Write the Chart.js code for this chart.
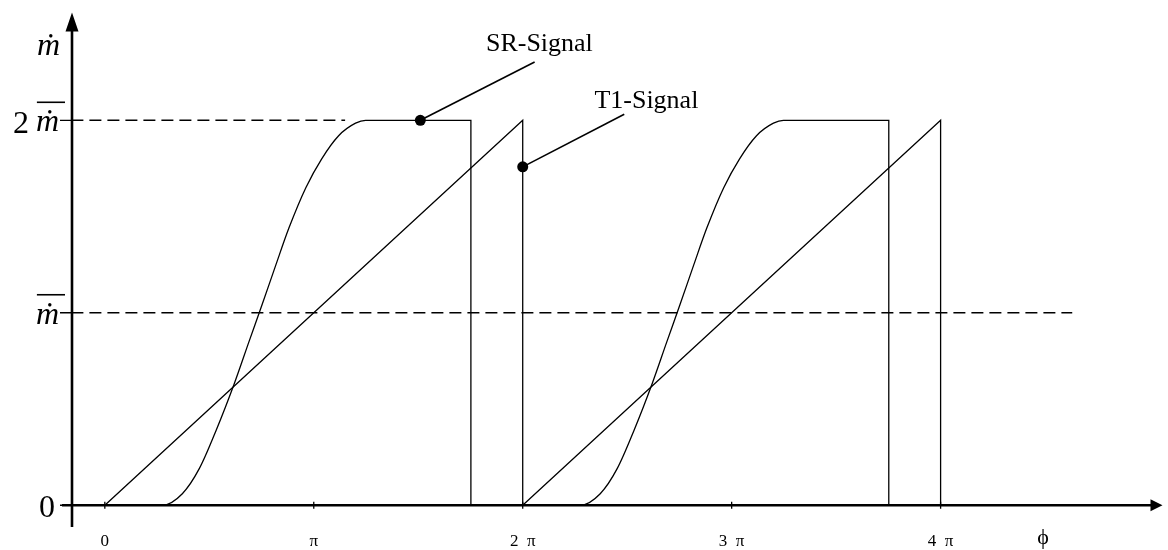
<!DOCTYPE html>
<html>
<head>
<meta charset="utf-8">
<title>SR-Signal / T1-Signal</title>
<script src="https://cdn.jsdelivr.net/npm/chart.js@4.4.1/dist/chart.umd.min.js"></script>
<style>
  html, body { margin: 0; padding: 0; background: #fff; }
  #chart { display: block; }
</style>
</head>
<body>
<canvas id="chart" width="1168" height="550"></canvas>
<script>
// phase in units of pi, mass flow in units of m-bar
const srX = [0, 0.276, 0.371, 0.452, 0.533, 0.619, 0.690, 0.752, 0.819, 0.881, 0.962, 1.038, 1.119, 1.200, 1.248, 1.752, 1.752,
  2.276, 2.371, 2.452, 2.533, 2.619, 2.690, 2.752, 2.819, 2.881, 2.962, 3.038, 3.119, 3.200, 3.248, 3.752, 3.752, 4.0];
const srY = [0, 0, 0.06, 0.19, 0.39, 0.63, 0.85, 1.04, 1.25, 1.44, 1.65, 1.80, 1.92, 1.985, 2, 2, 0,
  0, 0.06, 0.19, 0.39, 0.63, 0.85, 1.04, 1.25, 1.44, 1.65, 1.80, 1.92, 1.985, 2, 2, 0, 0];

const t1X = [0, 2, 2, 4, 4];
const t1Y = [0, 2, 0, 2, 0];

// dashed reference levels (m-bar and 2 m-bar)
const meanX = [-0.16, 4.63];
const meanY = [1, 1];
const twiceX = [-0.16, 1.15];
const twiceY = [2, 2];

const xTicks = [0, 1, 2, 3, 4, 4.49];
const xTickLabels = ['0', 'π', '2  π', '3  π', '4  π', 'ϕ'];
const yTicks = [0, 1, 2];
const yTickLabels = ['0', 'ṁ', '2ṁ'];

// callouts: dot on the curve, end of leader line, text anchor
const noteText = ['SR-Signal', 'T1-Signal'];
const noteDot = [[1.51, 2.0], [2.0, 1.758]];
const noteEnd = [[2.057, 2.303], [2.486, 2.031]];
const noteAt = [[1.824, 2.36], [2.343, 2.062]];

const pts = (xs, ys) => xs.map((x, i) => ({ x, y: ys[i] }));
const serif = "'Liberation Serif', 'DejaVu Serif', serif";

const leaders = noteDot.map((d, i) => ({
  data: [{ x: d[0], y: d[1] }, { x: noteEnd[i][0], y: noteEnd[i][1] }],
  borderColor: '#000',
  backgroundColor: '#000',
  borderWidth: 1.6,
  pointRadius: [5.5, 0],
  pointBorderWidth: 0
}));

const axesPlugin = {
  id: 'axes',
  afterDatasetsDraw(chart) {
    const { ctx, scales: { x, y } } = chart;
    const ax = x.left;
    const ay = y.getPixelForValue(0);
    const top = y.top + 7;
    ctx.save();
    ctx.strokeStyle = '#000';
    ctx.fillStyle = '#000';

    // axes with arrow heads
    ctx.lineWidth = 2.6;
    ctx.beginPath();
    ctx.moveTo(ax - 10, ay);
    ctx.lineTo(x.right - 10, ay);
    ctx.moveTo(ax, y.bottom);
    ctx.lineTo(ax, top + 14);
    ctx.stroke();
    ctx.beginPath();
    ctx.moveTo(x.right, ay);
    ctx.lineTo(x.right - 12, ay - 6);
    ctx.lineTo(x.right - 12, ay + 6);
    ctx.closePath();
    ctx.moveTo(ax, top);
    ctx.lineTo(ax - 6.5, top + 19);
    ctx.lineTo(ax + 6.5, top + 19);
    ctx.closePath();
    ctx.fill();

    // tick marks
    ctx.lineWidth = 1.3;
    ctx.beginPath();
    xTicks.slice(0, 5).forEach(v => {
      const px = x.getPixelForValue(v);
      ctx.moveTo(px, ay - 3.5);
      ctx.lineTo(px, ay + 3.5);
    });
    yTicks.forEach(v => {
      const py = y.getPixelForValue(v);
      ctx.moveTo(ax - 12, py);
      ctx.lineTo(ax, py);
    });
    ctx.stroke();

    // y tick labels, m-dot with a bar over it
    const right = ax - 13;
    ctx.textBaseline = 'alphabetic';
    ctx.textAlign = 'right';
    yTickLabels.forEach((lab, i) => {
      const py = y.getPixelForValue(yTicks[i]);
      if (lab.indexOf('ṁ') < 0) {
        ctx.font = '32px ' + serif;
        ctx.fillText(lab, right - 4, py + 12);
        return;
      }
      ctx.font = 'italic 32px ' + serif;
      const w = ctx.measureText('ṁ').width;
      ctx.fillText('ṁ', right, py + 11);
      ctx.lineWidth = 1.6;
      ctx.beginPath();
      ctx.moveTo(right - w + 1, py - 18);
      ctx.lineTo(right + 6, py - 18);
      ctx.stroke();
      const pre = lab.replace('ṁ', '');
      if (pre) {
        ctx.font = '32px ' + serif;
        ctx.fillText(pre, right - w - 7, py + 13);
      }
    });

    // axis title
    ctx.font = 'italic 32px ' + serif;
    ctx.fillText('ṁ', right + 1, 55);

    // callout texts
    ctx.textAlign = 'left';
    ctx.font = '26px ' + serif;
    noteText.forEach((t, i) => {
      ctx.fillText(t, x.getPixelForValue(noteAt[i][0]), y.getPixelForValue(noteAt[i][1]));
    });
    ctx.restore();
  }
};

new Chart(document.getElementById('chart'), {
  type: 'line',
  data: {
    datasets: [
      {
        data: pts(meanX, meanY),
        borderColor: '#000',
        borderWidth: 1.5,
        borderDash: [12, 6],
        pointRadius: 0
      },
      {
        data: pts(twiceX, twiceY),
        borderColor: '#000',
        borderWidth: 1.5,
        borderDash: [12, 6],
        pointRadius: 0
      },
      {
        data: pts(srX, srY),
        borderColor: '#000',
        borderWidth: 1.3,
        cubicInterpolationMode: 'monotone',
        pointRadius: 0
      },
      {
        data: pts(t1X, t1Y),
        borderColor: '#000',
        borderWidth: 1.3,
        pointRadius: 0
      },
      ...leaders
    ]
  },
  options: {
    responsive: false,
    animation: false,
    devicePixelRatio: 1,
    layout: { padding: 0 },
    plugins: {
      legend: { display: false },
      tooltip: { enabled: false },
      title: { display: false }
    },
    scales: {
      x: {
        type: 'linear',
        min: -0.1571,
        max: 5.062,
        grid: { display: false, drawTicks: false },
        border: { display: false },
        afterBuildTicks: s => { s.ticks = xTicks.map(v => ({ value: v })); },
        afterFit: s => {
          s.height = 23;
          s.paddingLeft = 0; s.paddingRight = 0;
        },
        ticks: {
          autoSkip: false,
          maxRotation: 0,
          padding: 4,
          color: '#000',
          font: c => c.index === 5
            ? { family: serif, size: 22, lineHeight: 0.64 }
            : { family: serif, size: 17 },
          callback: (v, i) => xTickLabels[i]
        }
      },
      y: {
        type: 'linear',
        min: -0.1131,
        max: 2.5964,
        grid: { display: false, drawTicks: false },
        border: { display: false },
        afterBuildTicks: s => { s.ticks = yTicks.map(v => ({ value: v })); },
        afterFit: s => {
          s.width = 72;
          s.paddingTop = 0; s.paddingBottom = 0;
        },
        ticks: { display: false }
      }
    }
  },
  plugins: [axesPlugin]
});
</script>
</body>
</html>
